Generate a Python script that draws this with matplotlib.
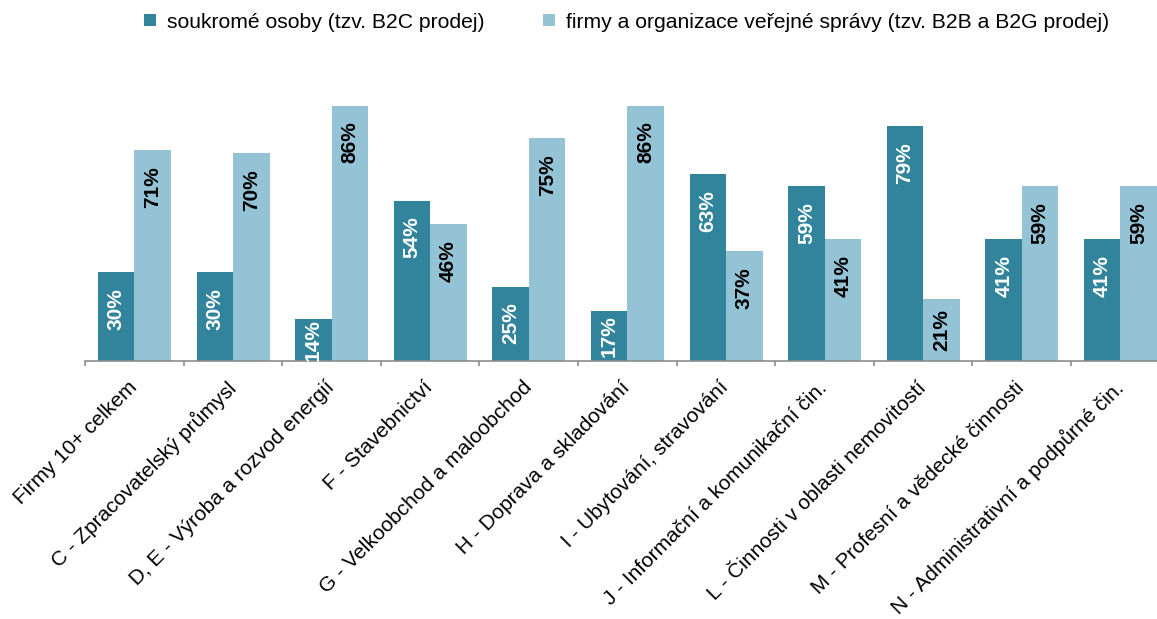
"""
Prodej podle typu zákazníka - sloupcový graf
"""

import numpy as np
import matplotlib
matplotlib.use("Agg")
import matplotlib.pyplot as plt
from matplotlib.lines import Line2D

plt.rcParams['font.family'] = ['Liberation Sans', 'DejaVu Sans']

categories = [
    "Firmy 10+ celkem",
    "C - Zpracovatelský průmysl",
    "D, E - Výroba a rozvod energií",
    "F - Stavebnictví",
    "G - Velkoobchod a maloobchod",
    "H - Doprava a skladování",
    "I - Ubytování, stravování",
    "J - Informační a komunikační čin.",
    "L - Činnosti v oblasti nemovitostí",
    "M - Profesní a vědecké činnosti",
    "N - Administrativní a podpůrné čin.",
]
b2c = [30, 30, 14, 54, 25, 17, 63, 59, 79, 41, 41]
b2b = [71, 70, 86, 46, 75, 86, 37, 41, 21, 59, 59]
series_names = [
    "soukromé osoby (tzv. B2C prodej)",
    "firmy a organizace veřejné správy (tzv. B2B a B2G prodej)",
]

DARK = "#31849B"
LIGHT = "#93C3D5"
AXIS_GRAY = "#8C8C8C"

W, H, DPI = 1157, 619, 100
fig = plt.figure(figsize=(W / DPI, H / DPI), dpi=DPI)

# axes in pixel terms: left 85, right ~1170 (beyond the edge), baseline 361, top 64
left, right, base, top = 85, 1169.6, 361, 64
ax = fig.add_axes([left / W, (H - base) / H, (right - left) / W, (base - top) / H])

n = len(categories)
x = np.arange(n)
bw = 0.37
gap = 0.132
ax.bar(x + gap, b2c, width=bw, align='edge', color=DARK, linewidth=0)
ax.bar(x + gap + bw, b2b, width=bw, align='edge', color=LIGHT, linewidth=0)

ax.set_xlim(0, n)
ax.set_ylim(0, 100)

px_per_unit = (base - top) / 100.0
pt = 72.0 / DPI
label_len = 42  # px, approx length of rotated label


def put_label(xc, v, color):
    h = v * px_per_unit
    txt = f"{v}%"
    if h - 16 - label_len < 6:
        ax.annotate(txt, xy=(xc, v / 2), ha='center', va='center',
                    rotation=90, fontsize=15, fontweight='bold', color=color)
    else:
        ax.annotate(txt, xy=(xc, v), xytext=(0, -16 * pt),
                    textcoords='offset points', ha='center', va='top',
                    rotation=90, fontsize=15, fontweight='bold', color=color)


for i in range(n):
    put_label(x[i] + gap + bw / 2, b2c[i], "white")
    put_label(x[i] + gap + 1.5 * bw, b2b[i], "black")

# axes styling
for s in ['top', 'right', 'left']:
    ax.spines[s].set_visible(False)
ax.spines['bottom'].set_color(AXIS_GRAY)
ax.spines['bottom'].set_linewidth(1.2)
ax.set_yticks([])

ax.set_xticks(x + 0.5)
ax.set_xticklabels(categories, rotation=45, ha='right', va='center',
                   rotation_mode='anchor', fontsize=15)
ax.set_xticks(np.arange(n + 1), minor=True)
ax.tick_params(axis='x', which='major', length=0, pad=17)
ax.tick_params(axis='x', which='minor', length=5 * pt, width=1.2,
               color=AXIS_GRAY, direction='out')

handles = [Line2D([], [], marker='s', linestyle='none', markersize=8,
                  markerfacecolor=c, markeredgewidth=0) for c in (DARK, LIGHT)]
fig.legend(handles, series_names, loc='center', bbox_to_anchor=(0.541, 0.964),
           ncol=2, frameon=False, fontsize=15.2, handlelength=0.7,
           handletextpad=0.45, columnspacing=2.7)

fig.savefig("out.png", dpi=DPI)
